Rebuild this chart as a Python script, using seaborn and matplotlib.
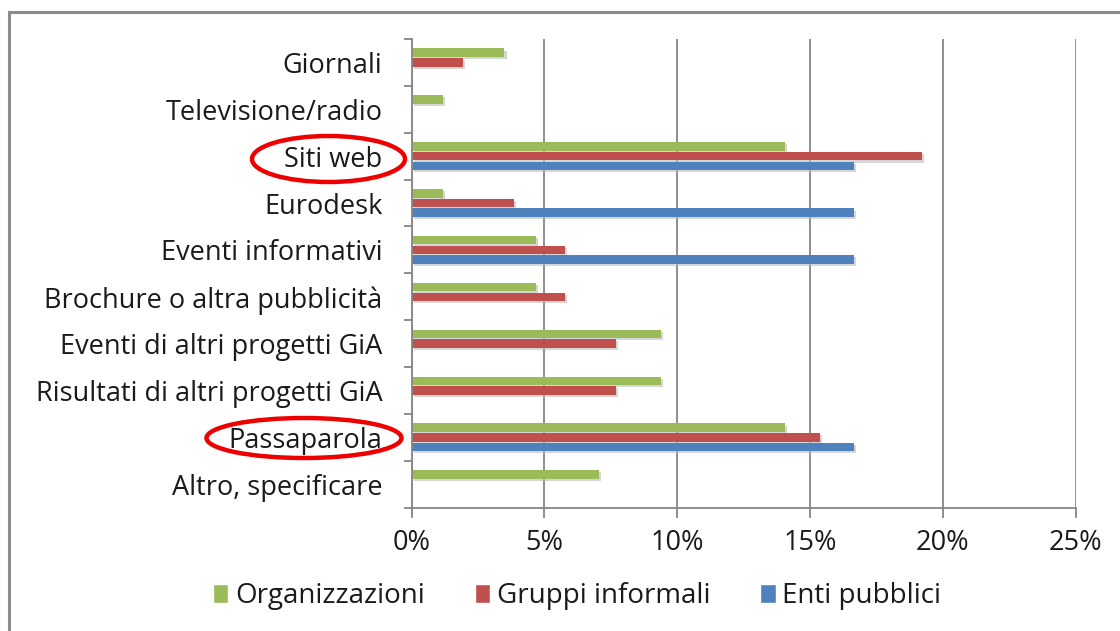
import matplotlib
matplotlib.use("Agg")
import matplotlib.pyplot as plt
import seaborn as sns
import pandas as pd
import numpy as np
from matplotlib.patches import Ellipse, Rectangle
from matplotlib.ticker import FixedLocator, FuncFormatter
import matplotlib.patheffects as pe

categories = [
    "Giornali",
    "Televisione/radio",
    "Siti web",
    "Eurodesk",
    "Eventi informativi",
    "Brochure o altra pubblicità",
    "Eventi di altri progetti GiA",
    "Risultati di altri progetti GiA",
    "Passaparola",
    "Altro, specificare",
]
series = ["Organizzazioni", "Gruppi informali", "Enti pubblici"]
organizzazioni = [3.5, 1.17, 14.06, 1.17, 4.67, 4.67, 9.38, 9.38, 14.06, 7.04]
gruppi_informali = [1.92, 0.0, 19.23, 3.85, 5.77, 5.77, 7.69, 7.69, 15.38, 0.0]
enti_pubblici = [0.0, 0.0, 16.67, 16.67, 16.67, 0.0, 0.0, 0.0, 16.67, 0.0]
colors = ["#9BBB59", "#C0504D", "#4F81BD"]
x_ticks = [0, 5, 10, 15, 20, 25]

sns.set_theme(style="white")
plt.rcParams["font.family"] = ["Open Sans", "DejaVu Sans"]

rows = []
for s, vals in zip(series, [organizzazioni, gruppi_informali, enti_pubblici]):
    for c, v in zip(categories, vals):
        rows.append({"cat": c, "serie": s, "val": v})
df = pd.DataFrame(rows)

fig = plt.figure(figsize=(11.2, 6.31), dpi=100)
ax = fig.add_axes([411.5 / 1120, 1 - 507.7 / 631, (1075.7 - 411.5) / 1120, (507.7 - 39) / 631])

sns.barplot(data=df, y="cat", x="val", hue="serie", order=categories,
            hue_order=series, palette=colors, orient="h", width=0.62, gap=0.12,
            ax=ax, legend=True, saturation=1, linewidth=0)

for p in ax.patches:
    p.set_path_effects([pe.SimplePatchShadow(offset=(1.5, -1.5), shadow_rgbFace="#bbbbbb", alpha=0.6),
                        pe.Normal()])

ax.set_xlim(0, 25)
ax.set_ylim(len(categories) - 0.5, -0.5)
ax.set_xlabel("")
ax.set_ylabel("")
ax.xaxis.set_major_locator(FixedLocator(x_ticks))
ax.xaxis.set_major_formatter(FuncFormatter(lambda v, p: f"{int(v)}%"))
ax.grid(axis="x", color="#868686", linewidth=1.3)
ax.set_axisbelow(True)
for s in ["top", "right"]:
    ax.spines[s].set_visible(False)
for s in ["left", "bottom"]:
    ax.spines[s].set_color("#868686")
    ax.spines[s].set_linewidth(1.3)

ax.tick_params(axis="x", which="major", length=7, width=1.3, color="#868686",
               direction="out", pad=8, labelsize=19.5, labelcolor="#1a1a1a", bottom=True)
ax.tick_params(axis="y", which="major", length=0, pad=21, labelsize=19.5, labelcolor="#1a1a1a")
ax.yaxis.set_minor_locator(FixedLocator(np.arange(-0.5, len(categories) + 0.5, 1)))
ax.tick_params(axis="y", which="minor", length=6, width=1.3, color="#868686",
               direction="out", left=True)

ax.get_legend().remove()
handles = [Rectangle((0, 0), 1, 1, facecolor=c, edgecolor="white") for c in colors]
fig.legend(handles, series, loc="center", bbox_to_anchor=(577 / 1120, 1 - 596 / 631),
           ncol=3, frameon=False, fontsize=20, handlelength=0.55, handleheight=0.7,
           handletextpad=0.25, columnspacing=1.8, labelcolor="#1a1a1a")

# red ellipses highlighting two labels
fig.add_artist(Ellipse((328.5 / 1120, 1 - 159 / 631), 153 / 1120, 46 / 631,
                       transform=fig.transFigure, fill=False, edgecolor="#EE0000",
                       linewidth=3.2, clip_on=False))
fig.add_artist(Ellipse((304 / 1120, 1 - 438 / 631), 195 / 1120, 40 / 631,
                       transform=fig.transFigure, fill=False, edgecolor="#EE0000",
                       linewidth=3.2, clip_on=False))

# outer chart border
fig.add_artist(Rectangle((9 / 1120, -0.05), 1.1, 1 - 12 / 631 + 0.05,
                         transform=fig.transFigure, fill=False,
                         edgecolor="#8c8c8c", linewidth=2.2))

fig.savefig("out.png", dpi=100)
